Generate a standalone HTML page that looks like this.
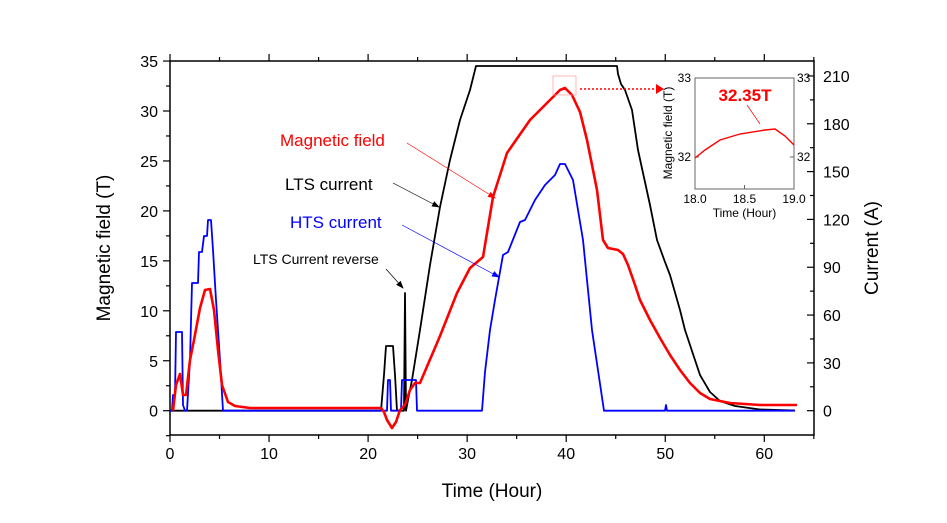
<!DOCTYPE html>
<html><head><meta charset="utf-8"><style>
body{margin:0;background:#fff}
svg{display:block;font-family:"Liberation Sans",Arial,sans-serif}
</style></head><body>
<svg width="947" height="523" viewBox="0 0 947 523" xmlns="http://www.w3.org/2000/svg">
<defs>
<marker id="ak" markerWidth="8" markerHeight="6" refX="7" refY="3" orient="auto" markerUnits="userSpaceOnUse"><path d="M0,0 L8,3 L0,6 Z" fill="#000"/></marker>
<marker id="ar" markerWidth="8" markerHeight="6" refX="7" refY="3" orient="auto" markerUnits="userSpaceOnUse"><path d="M0,0 L8,3 L0,6 Z" fill="#f00"/></marker>
<marker id="ab" markerWidth="8" markerHeight="6" refX="7" refY="3" orient="auto" markerUnits="userSpaceOnUse"><path d="M0,0 L8,3 L0,6 Z" fill="#00f"/></marker>
</defs>
<g stroke="#000" stroke-width="1.5" fill="none">
<rect x="170" y="61" width="644" height="374"/>
</g>
<g id="ticks" stroke="#000" stroke-width="1.2"></g>
<g font-size="16" fill="#000" id="labels"></g>
<text x="492" y="497" font-size="19" text-anchor="middle">Time (Hour)</text>
<text transform="translate(110,248) rotate(-90)" font-size="19" text-anchor="middle">Magnetic field (T)</text>
<text transform="translate(878,248) rotate(-90)" font-size="19" text-anchor="middle">Current (A)</text>

<g fill="none" stroke-linejoin="round">
<polyline stroke="#000" stroke-width="1.8" points="170,410.7 381,410.7 384,375 386,346 393,346 395,375 397,410.7 404,410.7 405,293 406,410.7 408,400 412,380 420,330 430,265 440,207 450,160 460,120 470,90 476,66 617,66 618,74 621,84 625,90 632,110 638,150 643,173 650,205 657,240 665,262 670,275 680,310 685,330 690,345 695,360 700,375 710,392 720,401 735,406 760,409.5 795,410.5"/>
<polyline stroke="#00f" stroke-width="1.8" points="170,410.7 172,410.7 173,395 175,395 176,332 182,332 183,405 185,410.7 187,410.7 190,360 192,283 198,283 199,252 202,252 204,236 207,236 208,220 211,220 213,250 216,300 220,360 223,410.7 387,410.7 388,380 390,380 391,410.7 401,410.7 402,380 416,380 417,410.7 482,410.7 485,372 490,330 495,300 503,255 508,252 520,222 525,220 535,200 545,185 555,175 560,164 565,164 569,172 573,180 583,240 592,330 604,410.7 665,410.7 666,405 667,410.7 795,410.7"/>
<polyline stroke="#f00" stroke-width="2.6" points="173,410.7 176,385 180,374 183,395 186,395 190,360 194,340 200,308 205,290 210,289 214,310 218,350 222,385 228,402 235,406 250,408 381,408 384,412 387,420 392,428 396,422 400,410 405,405 410,390 415,383 420,383 440,336 457,293 470,268 483,257 493,197 507,153 530,120 550,100 560,90 565,88 572,95 580,112 587,140 597,190 603,240 608,248 618,250 623,254 628,265 635,285 640,300 650,320 660,338 670,355 680,370 690,383 700,393 710,399 730,403 760,405 797,405"/>
</g>

<text x="280" y="146" font-size="17" fill="#f00">Magnetic field</text>
<text x="285" y="190" font-size="17" fill="#000">LTS current</text>
<text x="290" y="228" font-size="17" fill="#00f">HTS current</text>
<text x="253" y="264" font-size="14" fill="#000">LTS Current reverse</text>
<line x1="407" y1="143" x2="495" y2="198" stroke="#f00" stroke-width="0.7" marker-end="url(#ar)"/>
<line x1="393" y1="183" x2="439" y2="207" stroke="#000" stroke-width="0.7" marker-end="url(#ak)"/>
<line x1="402" y1="225" x2="499" y2="277" stroke="#00f" stroke-width="0.7" marker-end="url(#ab)"/>
<line x1="386" y1="269" x2="403" y2="288" stroke="#000" stroke-width="0.7" marker-end="url(#ak)"/>

<rect x="553" y="76" width="23" height="19" fill="none" stroke="#f99" stroke-width="0.7"/>
<line x1="580" y1="89" x2="658" y2="89" stroke="#f00" stroke-width="1.6" stroke-dasharray="2,2"/>
<path d="M656,84 L664,89 L656,94 Z" fill="#f00"/>

<rect x="695" y="78" width="99" height="111" fill="#fff" stroke="#666" stroke-width="1"/>
<g stroke="#666" stroke-width="1">
<line x1="695" y1="78" x2="699" y2="78"/><line x1="695" y1="157" x2="699" y2="157"/>
<line x1="790" y1="78" x2="794" y2="78"/><line x1="790" y1="157" x2="794" y2="157"/>
<line x1="744.5" y1="189" x2="744.5" y2="185"/>
</g>
<text x="691" y="82" font-size="12" text-anchor="end">33</text>
<text x="691" y="161" font-size="12" text-anchor="end">32</text>
<text x="797" y="82" font-size="12">33</text>
<text x="797" y="161" font-size="12">32</text>
<text x="695" y="203" font-size="12" text-anchor="middle">18.0</text>
<text x="744.5" y="203" font-size="12" text-anchor="middle">18.5</text>
<text x="794" y="203" font-size="12" text-anchor="middle">19.0</text>
<text x="744.5" y="217" font-size="12" text-anchor="middle">Time (Hour)</text>
<text transform="translate(672,133) rotate(-90)" font-size="12" text-anchor="middle">Magnetic field (T)</text>
<polyline fill="none" stroke="#f00" stroke-width="1.4" points="695,158 705,150 720,140 740,134 765,130 775,129 785,136 794,145"/>
<text x="745" y="101" font-size="17" font-weight="bold" fill="#f00" text-anchor="middle">32.35T</text>
<line x1="747" y1="105" x2="760" y2="124" stroke="#f00" stroke-width="0.7"/>
<script>
var t=document.getElementById('ticks'),l=document.getElementById('labels'),ns='http://www.w3.org/2000/svg';
function ln(a,b,c,d){var e=document.createElementNS(ns,'line');e.setAttribute('x1',a);e.setAttribute('y1',b);e.setAttribute('x2',c);e.setAttribute('y2',d);t.appendChild(e);}
function tx(x,y,s,a){var e=document.createElementNS(ns,'text');e.setAttribute('x',x);e.setAttribute('y',y);e.setAttribute('text-anchor',a);e.textContent=s;l.appendChild(e);}
for(var h=0;h<=65;h+=5){var x=170+9.905*h,M=h%10==0;ln(x,435,x,435+(M?7:4));ln(x,61,x,61-(M?7:4));if(M)tx(x,459,h,'middle');}
for(var v=-2.5;v<=35;v+=2.5){var y=410.7-9.99*v,M=(v%5==0);ln(170,y,170-(M?7:4),y);if(M)tx(158,y+6,v,'end');}
for(var a=0;a<=210;a+=15){var y=410.7-1.594*a,M=a%30==0;ln(814,y,814-(M?7:4),y);if(M)tx(823,y+6,a,'start');}
</script>
</svg>
</body></html>
